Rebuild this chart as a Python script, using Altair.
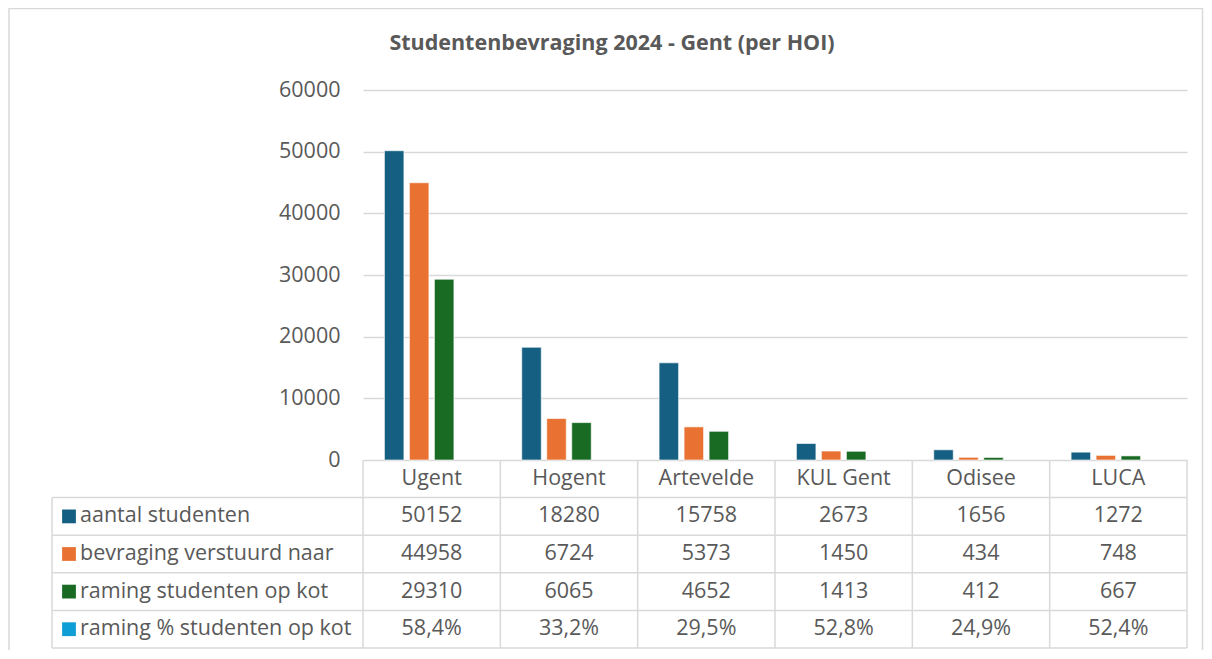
import altair as alt
import pandas as pd

title_text = "Studentenbevraging 2024 - Gent (per HOI)"
categories = ["Ugent", "Hogent", "Artevelde", "KUL Gent", "Odisee", "LUCA"]
series = ["aantal studenten", "bevraging verstuurd naar",
          "raming studenten op kot", "raming % studenten op kot"]
aantal = [50152, 18280, 15758, 2673, 1656, 1272]
bevraging = [44958, 6724, 5373, 1450, 434, 748]
raming = [29310, 6065, 4652, 1413, 412, 667]
raming_pct = ["58,4%", "33,2%", "29,5%", "52,8%", "24,9%", "52,4%"]
colors = ["#156082", "#E97132", "#196B24", "#0F9ED5"]
y_ticks = [0, 10000, 20000, 30000, 40000, 50000, 60000]

FONT = "Open Sans"
TXT = "#595959"
GRID = "#d9d9d9"
FS = 21.5

W, H = 824, 370
PAD = {"left": 355, "top": 82, "right": 17, "bottom": 190}

# bar data (three count series)
bars = []
for s, vals in zip(series[:3], [aantal, bevraging, raming]):
    for c, v in zip(categories, vals):
        bars.append({"category": c, "series": s, "value": v})
bars_df = pd.DataFrame(bars)

# table cells
cells = []
for c in categories:
    cells.append({"category": c, "ty": 0.5, "label": c})
for r, vals in enumerate([aantal, bevraging, raming, raming_pct], start=1):
    for c, v in zip(categories, vals):
        cells.append({"category": c, "ty": r + 0.5, "label": str(v)})
cells_df = pd.DataFrame(cells)

rows_df = pd.DataFrame({"series": series, "ty": [1.5, 2.5, 3.5, 4.5]})
hlines_df = pd.DataFrame({"ty": [1, 2, 3, 4, 5]})
vlines_df = pd.DataFrame({"category": categories, "y0": [0] * 6, "y1": [5] * 6})
vlast_df = pd.DataFrame({"category": [categories[-1]], "y0": [0], "y1": [5]})
vleft_df = pd.DataFrame({"y0": [1], "y1": [5]})
title_df = pd.DataFrame({"t": [title_text]})

xscale = alt.Scale(domain=categories, paddingInner=0, paddingOuter=0)
tscale = alt.Scale(domain=[0, 5], range=[H, H + 188])
cscale = alt.Scale(domain=series, range=colors)

bar_layer = alt.Chart(bars_df).mark_bar(stroke="white", strokeWidth=0.6).encode(
    x=alt.X("category:N", scale=xscale, axis=None, sort=categories),
    xOffset=alt.XOffset("series:N", scale=alt.Scale(domain=series, paddingInner=0.22, paddingOuter=0.857)),
    y=alt.Y("value:Q", scale=alt.Scale(domain=[0, 60000]),
            axis=alt.Axis(values=y_ticks, grid=True, gridColor=GRID, gridWidth=1.3,
                          domain=False, ticks=False, labelFontSize=FS, labelColor=TXT,
                          labelFont=FONT, labelPadding=23, title=None, format="d")),
    color=alt.Color("series:N", scale=cscale, legend=None),
)

hline_layer = alt.Chart(hlines_df).mark_rule(color=GRID, strokeWidth=1.5).encode(
    y=alt.Y("ty:Q", scale=tscale, axis=None),
    x=alt.value(-311), x2=alt.value(W),
)

vline_layer = alt.Chart(vlines_df).mark_rule(color=GRID, strokeWidth=1.5).encode(
    x=alt.X("category:N", scale=xscale, axis=None, bandPosition=0, sort=categories),
    y=alt.Y("y0:Q", scale=tscale, axis=None), y2="y1:Q",
)

vlast_layer = alt.Chart(vlast_df).mark_rule(color=GRID, strokeWidth=1.5).encode(
    x=alt.X("category:N", scale=xscale, axis=None, bandPosition=1, sort=categories),
    y=alt.Y("y0:Q", scale=tscale, axis=None), y2="y1:Q",
)

vleft_layer = alt.Chart(vleft_df).mark_rule(color=GRID, strokeWidth=1.5).encode(
    x=alt.value(-311),
    y=alt.Y("y0:Q", scale=tscale, axis=None), y2="y1:Q",
)

cell_layer = alt.Chart(cells_df).mark_text(font=FONT, fontSize=FS, color=TXT,
                                            align="center", baseline="middle").encode(
    x=alt.X("category:N", scale=xscale, axis=None, sort=categories),
    y=alt.Y("ty:Q", scale=tscale, axis=None),
    text="label:N",
)

key_layer = alt.Chart(rows_df).mark_square(size=190, opacity=1, filled=True).encode(
    x=alt.value(-294),
    y=alt.Y("ty:Q", scale=tscale, axis=None),
    color=alt.Color("series:N", scale=cscale, legend=None),
)

rowlabel_layer = alt.Chart(rows_df).mark_text(font=FONT, fontSize=FS, color=TXT,
                                               align="left", baseline="middle").encode(
    x=alt.value(-283),
    y=alt.Y("ty:Q", scale=tscale, axis=None),
    text="series:N",
)

title_layer = alt.Chart(title_df).mark_text(font=FONT, fontSize=21.5, fontWeight="bold",
                                             color=TXT, align="center", baseline="middle").encode(
    x=alt.value(249), y=alt.value(-46), text="t:N",
)

frame_layer = alt.Chart(pd.DataFrame({"a": [0]})).mark_rect(
    fill="transparent", stroke=GRID, strokeWidth=1.5).encode(
    x=alt.value(-354), x2=alt.value(W + PAD["right"] - 1.5),
    y=alt.value(-81.5), y2=alt.value(H + 300),
)

chart = alt.layer(
    frame_layer, bar_layer, hline_layer, vline_layer, vlast_layer, vleft_layer,
    cell_layer, key_layer, rowlabel_layer, title_layer,
).resolve_scale(y="independent").properties(
    width=W, height=H,
    autosize=alt.AutoSizeParams(type="none"),
    padding=PAD,
).configure_view(strokeWidth=0)

chart.save("out.html", embed_options={"renderer": "svg", "actions": False})
